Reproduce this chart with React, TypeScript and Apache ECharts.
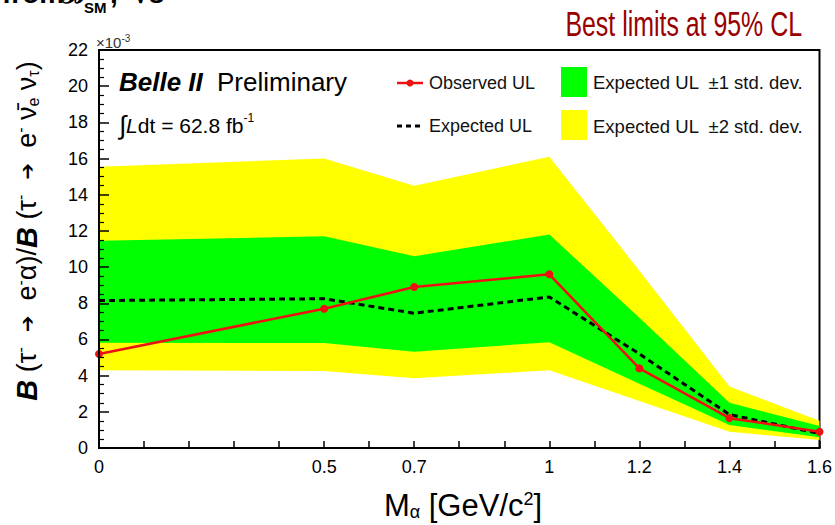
import React, { useEffect, useRef } from "react";
import * as echarts from "echarts";

const xs = [0, 0.5, 0.7, 1.0, 1.2, 1.4, 1.6];
const observedUL = [5.2, 7.7, 8.9, 9.6, 4.4, 1.65, 0.9];
const expectedUL = [8.15, 8.25, 7.45, 8.35, 5.2, 1.85, 0.8];
const green1Upper = [11.45, 11.7, 10.6, 11.8, 7.2, 2.5, 1.22];
const green1Lower = [5.82, 5.8, 5.32, 5.85, 3.55, 1.27, 0.6];
const yellow2Upper = [15.55, 16.0, 14.5, 16.1, 9.8, 3.4, 1.5];
const yellow2Lower = [4.3, 4.26, 3.85, 4.3, 2.6, 0.9, 0.44];
const xTickLabels = [0, 0.5, 0.7, 1, 1.2, 1.4, 1.6];

const FONT = "'Liberation Sans', Arial, Helvetica, sans-serif";

function band(upper: number[], lower: number[], color: string, z: number) {
  return {
    type: "custom",
    z,
    silent: true,
    data: [[0, 0]],
    renderItem: (_params: any, api: any) => {
      const pts: number[][] = [];
      for (let i = 0; i < xs.length; i++) pts.push(api.coord([xs[i], upper[i]]));
      for (let i = xs.length - 1; i >= 0; i--) pts.push(api.coord([xs[i], lower[i]]));
      return { type: "polygon", shape: { points: pts }, style: { fill: color, stroke: null } };
    },
  };
}

export default function App() {
  const ref = useRef<HTMLDivElement>(null);
  useEffect(() => {
    if (!ref.current) return;
    const chart = echarts.init(ref.current, null, { renderer: "svg" });
    const option: any = {
      animation: false,
      backgroundColor: "#fff",
      grid: {
        left: 99,
        right: 11,
        top: 50,
        bottom: 77,
        show: true,
        borderColor: "#000",
        borderWidth: 2,
        backgroundColor: "transparent",
      },
      xAxis: {
        type: "value",
        min: 0,
        max: 1.6,
        interval: 0.1,
        z: 10,
        axisLine: { show: true, onZero: false, lineStyle: { color: "#000", width: 2 } },
        axisTick: { show: true, inside: true, length: 7, lineStyle: { color: "#000", width: 1.5 } },
        splitLine: { show: false },
        axisLabel: {
          show: true,
          margin: 10,
          fontSize: 18,
          fontFamily: FONT,
          color: "#000",
          hideOverlap: false,
          formatter: (v: number) => {
            const r = Math.round(v * 10) / 10;
            return xTickLabels.some((t) => Math.abs(t - r) < 1e-6) ? String(r) : "";
          },
        },
      },
      yAxis: {
        type: "value",
        min: 0,
        max: 22,
        interval: 2,
        z: 10,
        axisLine: { show: true, onZero: false, lineStyle: { color: "#000", width: 2 } },
        axisTick: { show: true, inside: true, length: 10, lineStyle: { color: "#000", width: 1.5 } },
        minorTick: { show: true, splitNumber: 4, length: 5, lineStyle: { color: "#000", width: 1.2 } },
        splitLine: { show: false },
        axisLabel: { margin: 11, fontSize: 18, fontFamily: FONT, color: "#000" },
      },
      series: [
        band(yellow2Upper, yellow2Lower, "#ffff00", 1),
        band(green1Upper, green1Lower, "#00ff00", 2),
        {
          type: "line",
          z: 3,
          data: xs.map((x, i) => [x, expectedUL[i]]),
          showSymbol: false,
          symbol: "none",
          lineStyle: { color: "#000", width: 3, type: [6, 4] },
        },
        {
          type: "line",
          z: 4,
          data: xs.map((x, i) => [x, observedUL[i]]),
          symbol: "circle",
          symbolSize: 8,
          itemStyle: { color: "#ee1111" },
          lineStyle: { color: "#ee1111", width: 2.5 },
        },
      ],
      graphic: [
        // top cut-off text (cut in the reference too)
        { type: "text", x: 2, y: 7, style: { text: "from", font: `bold 28px ${FONT}`, fill: "#000", textVerticalAlign: "bottom" } },
        { type: "text", x: 62, y: 7, style: { text: "ℬ", font: `bold 28px ${FONT}`, fill: "#000", textVerticalAlign: "bottom" } },
        { type: "text", x: 84, y: 15, style: { text: "SM", font: `bold 15px ${FONT}`, fill: "#000", textVerticalAlign: "bottom" } },
        { type: "text", x: 110, y: 7, style: { text: ",  √s", font: `bold 28px ${FONT}`, fill: "#000", textVerticalAlign: "bottom" } },
        // Best limits
        {
          type: "text",
          x: 802,
          y: 24,
          scaleX: 0.83,
          scaleY: 1.15,
          style: {
            text: "Best limits at 95% CL",
            font: `30px ${FONT}`,
            fill: "#990000",
            textAlign: "right",
            textVerticalAlign: "middle",
          },
        },
        // x10^-3
        {
          type: "text",
          x: 96,
          y: 42,
          style: {
            text: "×10{sup|-3}",
            font: `15px ${FONT}`,
            fill: "#333",
            textVerticalAlign: "middle",
            rich: { sup: { fontSize: 10, fontFamily: FONT, fill: "#333", verticalAlign: "top", padding: [0, 0, 8, 0] } },
          },
        },
        // Belle II Preliminary
        { type: "text", x: 119, y: 82, style: { text: "Belle II", font: `italic bold 26px ${FONT}`, fill: "#000", textVerticalAlign: "middle" } },
        { type: "text", x: 217, y: 82, style: { text: "Preliminary", font: `26px ${FONT}`, fill: "#000", textVerticalAlign: "middle" } },
        {
          type: "text",
          x: 119,
          y: 125,
          style: {
            text: "{int|∫}{i|L}{n|dt = 62.8 fb}{sup|-1}",
            font: `21px ${FONT}`,
            fill: "#000",
            textVerticalAlign: "middle",
            rich: {
              int: { fontSize: 26, fontFamily: FONT, fill: "#000" },
              n: { fontSize: 21, fontFamily: FONT, fill: "#000" },
              i: { fontSize: 21, fontFamily: FONT, fontStyle: "italic", fill: "#000" },
              sup: { fontSize: 12, fontFamily: FONT, fill: "#000", verticalAlign: "top", padding: [0, 0, 10, 0] },
            },
          },
        },
        // legend
        { type: "line", shape: { x1: 397, y1: 83, x2: 423, y2: 83 }, style: { stroke: "#ee1111", lineWidth: 2.5 } },
        { type: "circle", shape: { cx: 410, cy: 83, r: 3.5 }, style: { fill: "#ee1111" } },
        { type: "text", x: 429, y: 83, style: { text: "Observed UL", font: `18px ${FONT}`, fill: "#111", textVerticalAlign: "middle" } },
        { type: "line", shape: { x1: 397, y1: 126, x2: 423, y2: 126 }, style: { stroke: "#000", lineWidth: 3, lineDash: [5, 4] } },
        { type: "text", x: 429, y: 126, style: { text: "Expected UL", font: `18px ${FONT}`, fill: "#111", textVerticalAlign: "middle" } },
        { type: "rect", shape: { x: 561, y: 67, width: 26, height: 30 }, style: { fill: "#00ff00" } },
        { type: "text", x: 593, y: 82, style: { text: "Expected UL  ±1 std. dev.", font: `18.5px ${FONT}`, fill: "#111", textVerticalAlign: "middle" } },
        { type: "rect", shape: { x: 561, y: 110, width: 26, height: 30 }, style: { fill: "#ffff00" } },
        { type: "text", x: 593, y: 126, style: { text: "Expected UL  ±2 std. dev.", font: `18.5px ${FONT}`, fill: "#111", textVerticalAlign: "middle" } },
        // x-axis title
        {
          type: "text",
          x: 463,
          y: 505,
          style: {
            text: "M{sub|α} [GeV/c{sup|2}]",
            font: `31px ${FONT}`,
            fill: "#000",
            textAlign: "center",
            textVerticalAlign: "middle",
            rich: {
              sub: { fontSize: 18, fontFamily: FONT, fill: "#000", verticalAlign: "bottom", padding: [12, 0, 0, 0] },
              sup: { fontSize: 18, fontFamily: FONT, fill: "#000", verticalAlign: "top", padding: [0, 0, 13, 0] },
            },
          },
        },
        // y-axis title
        {
          type: "text",
          x: 27,
          y: 231,
          rotation: Math.PI / 2,
          style: {
            text: "{b|B} (τ{sup|-}  {ar|➔}  e{sup|-}α)/{b|B} (τ{sup|-}  {ar|➔}  e{sup|-} ν̄{sub|e} ν{sub|τ})",
            font: `27px ${FONT}`,
            fill: "#000",
            textAlign: "center",
            textVerticalAlign: "middle",
            rich: {
              b: { fontSize: 29, fontFamily: FONT, fontStyle: "italic", fontWeight: "bold", fill: "#000" },
              ar: { fontSize: 20, fontFamily: "'DejaVu Sans', sans-serif", fill: "#000" },
              sup: { fontSize: 16, fontFamily: FONT, fill: "#000", verticalAlign: "top", padding: [0, 0, 12, 0] },
              sub: { fontSize: 16, fontFamily: FONT, fill: "#000", verticalAlign: "bottom", padding: [12, 0, 0, 0] },
            },
          },
        },
      ],
    };
    chart.setOption(option);
    return () => chart.dispose();
  }, []);
  return <div ref={ref} style={{ position: "fixed", left: 0, top: 0, width: 835, height: 525 }} />;
}
